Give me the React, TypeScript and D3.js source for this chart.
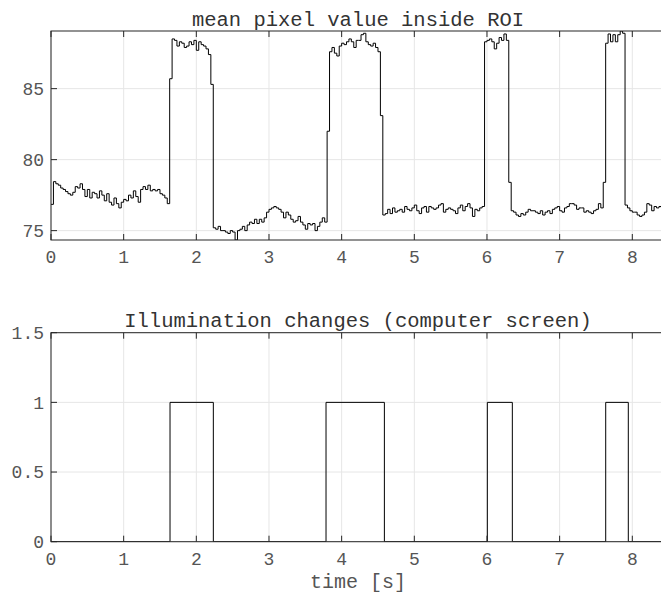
import React from 'react';
import * as d3 from 'd3';

const FPS = 30;
// mean pixel value inside ROI, one value per video frame
const roiMean = [
  76.85, 78.45, 78.3, 78.2, 78.0, 77.9, 77.75, 77.6, 77.5, 77.7,
  78.1, 78.0, 78.3, 77.9, 77.4, 77.9, 77.3, 77.7, 77.6, 77.3,
  77.8, 77.5, 77.1, 77.6, 77.0, 76.8, 77.3, 76.9, 76.6, 77.0,
  77.2, 77.1, 77.5, 77.3, 77.8, 77.4, 77.0, 77.9, 78.1, 77.9,
  78.2, 77.8, 77.9, 77.8, 77.9, 77.6, 77.5, 77.3, 76.9, 85.7,
  88.5, 88.4, 88.0, 88.3, 88.2, 87.9, 88.0, 88.3, 88.1, 88.4,
  87.7, 88.3, 88.1, 88.0, 87.8, 87.4, 85.3, 75.2, 75.1, 75.3,
  75.0, 75.0, 74.9, 74.8, 75.0, 74.9, 74.34, 75.0, 75.1, 75.3,
  75.0, 75.4, 75.6, 75.5, 75.8, 75.5, 75.8, 75.6, 75.9, 76.3,
  76.5, 76.6, 76.7, 76.6, 76.5, 76.3, 75.9, 76.3, 76.1, 75.8,
  75.6, 75.7, 76.0, 75.6, 75.4, 75.1, 75.5, 75.4, 75.5, 75.0,
  75.3, 75.6, 75.9, 75.6, 82.0, 87.6, 87.9, 87.5, 87.3, 88.0,
  88.2, 88.1, 88.3, 88.5, 88.3, 87.9, 88.4, 88.4, 88.8, 88.9,
  88.3, 88.1, 88.0, 88.2, 87.9, 87.6, 83.1, 76.1, 76.2, 76.5,
  76.2, 76.6, 76.3, 76.4, 76.5, 76.3, 76.7, 76.5, 76.4, 76.6,
  76.8, 76.4, 76.2, 76.6, 76.7, 76.3, 76.7, 76.6, 76.5, 76.6,
  76.8, 76.9, 76.3, 76.5, 76.6, 76.5, 76.4, 76.2, 76.6, 76.8,
  76.4, 76.7, 76.9, 76.6, 76.0, 76.5, 76.4, 76.6, 76.7, 88.3,
  88.4, 88.5, 88.3, 87.8, 88.2, 88.6, 88.4, 88.85, 88.4, 78.4,
  76.4, 76.3, 76.1, 76.0, 76.2, 76.1, 76.3, 76.5, 76.4, 76.4,
  76.3, 76.2, 76.4, 76.1, 76.3, 76.4, 76.2, 76.5, 76.6, 76.7,
  76.4, 76.3, 76.6, 76.7, 76.9, 76.9, 76.8, 76.5, 76.6, 76.6,
  76.3, 76.4, 76.3, 76.2, 76.4, 76.5, 76.9, 76.6, 78.4, 88.2,
  88.85, 88.3, 88.8, 88.3, 88.8, 89.06, 88.9, 76.8, 76.6, 76.4,
  76.3, 76.3, 76.1, 76.0, 76.1, 76.3, 76.9, 76.8, 76.4, 76.7,
  76.6, 76.7, 76.6, 76.8,
];

// illumination on/off switching times [s]
const onTimes = [1.638, 3.785, 6.005, 7.634];
const offTimes = [2.234, 4.588, 6.349, 7.945];

const xTicks = [0, 1, 2, 3, 4, 5, 6, 7, 8];
const topYTicks = [75, 80, 85];
const bottomYTicks = [0, 0.5, 1, 1.5];
const topTitle = 'mean pixel value inside ROI';
const bottomTitle = 'Illumination changes (computer screen)';
const xLabel = 'time [s]';
const X_MAX = 8.45;

const FONT = "'Liberation Mono', 'DejaVu Sans Mono', monospace";
const AXIS = '#262626';
const LABEL = '#555555';
const GRID = '#e6e6e6';

const L = 51;
const R = 665;
const TOP1 = 31;
const BOT1 = 240;
const TOP2 = 332.7;
const BOT2 = 541.7;

function Axes({ x, y, yTicks, top, bottom, path, title, clipId }: any) {
  const tickLen = 6;
  return (
    <g>
      <defs>
        <clipPath id={clipId}>
          <rect x={L} y={top} width={R - L} height={bottom - top} />
        </clipPath>
      </defs>
      <rect x={L} y={top} width={R - L} height={bottom - top} fill="#fff" />
      {xTicks.map((t) => (
        <line key={'gx' + t} x1={x(t)} x2={x(t)} y1={top} y2={bottom} stroke={GRID} strokeWidth={1} />
      ))}
      {yTicks.map((t: number) => (
        <line key={'gy' + t} x1={L} x2={R} y1={y(t)} y2={y(t)} stroke={GRID} strokeWidth={1} />
      ))}
      <path d={path} fill="none" stroke="#000" strokeWidth={1} clipPath={`url(#${clipId})`} />
      <rect x={L} y={top} width={R - L} height={bottom - top} fill="none" stroke={AXIS} strokeWidth={1} />
      {xTicks.map((t) => (
        <g key={'tx' + t}>
          <line x1={x(t)} x2={x(t)} y1={bottom} y2={bottom - tickLen} stroke={AXIS} />
          <line x1={x(t)} x2={x(t)} y1={top} y2={top + tickLen} stroke={AXIS} />
          <text x={x(t)} y={bottom + 17} dy="0.35em" textAnchor="middle" fontSize={18} fill={LABEL} fontFamily={FONT}>
            {String(t)}
          </text>
        </g>
      ))}
      {yTicks.map((t: number) => (
        <g key={'ty' + t}>
          <line x1={L} x2={L + tickLen} y1={y(t)} y2={y(t)} stroke={AXIS} />
          <text x={44} y={y(t)} dy="0.35em" textAnchor="end" fontSize={18} fill={LABEL} fontFamily={FONT}>
            {String(t)}
          </text>
        </g>
      ))}
      <text x={(L + R) / 2} y={top - 5.5} textAnchor="middle" fontSize={20.5} fill="#333" fontFamily={FONT}>
        {title}
      </text>
    </g>
  );
}

export default function App() {
  const x = d3.scaleLinear().domain([0, X_MAX]).range([L, R]);

  const pts1: [number, number][] = roiMean.map((v, i) => [i / FPS, v]);
  pts1.push([roiMean.length / FPS, roiMean[roiMean.length - 1]]);
  const ext = d3.extent(roiMean) as [number, number];
  const y1 = d3.scaleLinear().domain(ext).range([BOT1, TOP1]);
  const line1 = d3
    .line<[number, number]>()
    .x((d) => x(d[0]))
    .y((d) => y1(d[1]))
    .curve(d3.curveStepAfter);

  const pts2: [number, number][] = [[0, 0]];
  onTimes.forEach((on, i) => {
    pts2.push([on, 1]);
    pts2.push([offTimes[i], 0]);
  });
  pts2.push([X_MAX + 0.1, 0]);
  const y2 = d3.scaleLinear().domain([0, 1.5]).range([BOT2, TOP2]);
  const line2 = d3
    .line<[number, number]>()
    .x((d) => x(d[0]))
    .y((d) => y2(d[1]))
    .curve(d3.curveStepAfter);

  return (
    <svg
      width={661}
      height={593}
      style={{ position: 'absolute', left: 0, top: 0, background: '#fff' }}
    >
      <rect x={0} y={0} width={661} height={593} fill="#fff" />
      <Axes x={x} y={y1} yTicks={topYTicks} top={TOP1} bottom={BOT1} path={line1(pts1) || ''} title={topTitle} clipId="c1" />
      <Axes x={x} y={y2} yTicks={bottomYTicks} top={TOP2} bottom={BOT2} path={line2(pts2) || ''} title={bottomTitle} clipId="c2" />
      <text x={(L + R) / 2} y={588} textAnchor="middle" fontSize={20} fill={LABEL} fontFamily={FONT}>
        {xLabel}
      </text>
    </svg>
  );
}
